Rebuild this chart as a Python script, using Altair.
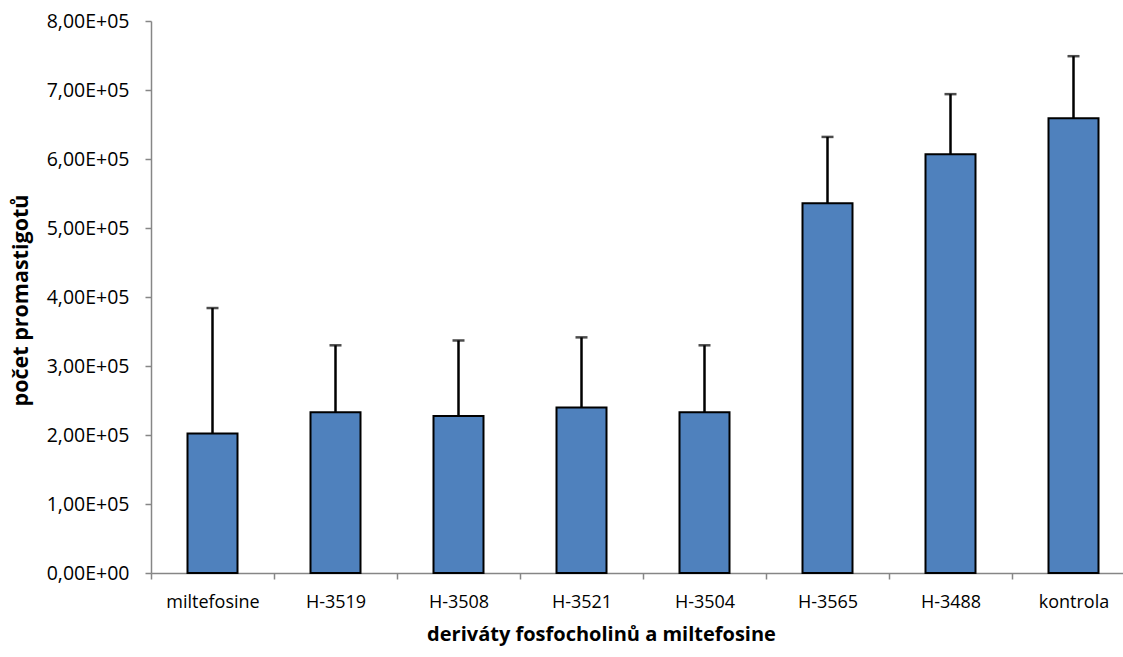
import altair as alt
import pandas as pd

categories = ["miltefosine", "H-3519", "H-3508", "H-3521", "H-3504", "H-3565", "H-3488", "kontrola"]
means = [2.02e5, 2.33e5, 2.275e5, 2.40e5, 2.33e5, 5.36e5, 6.07e5, 6.59e5]
errors = [1.82e5, 0.97e5, 1.095e5, 1.015e5, 0.97e5, 0.96e5, 0.87e5, 0.90e5]
y_ticks = [0, 1e5, 2e5, 3e5, 4e5, 5e5, 6e5, 7e5, 8e5]

df = pd.DataFrame({"cat": categories, "mean": means, "err": errors})
df["top"] = df["mean"] + df["err"]

FONT = "Open Sans"

x_enc = alt.X(
    "cat:N",
    sort=categories,
    scale=alt.Scale(range=[0, 984], paddingInner=0, paddingOuter=0),
    axis=alt.Axis(
        title="deriváty fosfocholinů a miltefosine",
        tickBand="extent",
        labelAngle=0,
        labelFont=FONT,
        labelFontSize=18,
        labelColor="#000000",
        labelPadding=14,
        tickSize=6,
        tickColor="#868686",
        tickWidth=1.5,
        domainColor="#868686",
        domainWidth=1.5,
        titleFont=FONT,
        titleFontSize=20,
        titleFontWeight="bold",
        titleColor="#000000",
        titleX=450,
        titleY=67,
        titleAlign="center",
        titleBaseline="alphabetic",
        grid=False,
    ),
)

y_scale = alt.Scale(domain=[0, 8e5], nice=False, zero=True)
y_axis = alt.Axis(
    title="počet promastigotů",
    values=y_ticks,
    labelExpr="datum.value == 0 ? '0,00E+00' : replace(format(datum.value/100000, '.2f'), '.', ',') + 'E+05'",
    labelFont=FONT,
    labelFontSize=19.5,
    labelColor="#000000",
    labelPadding=16,
    tickSize=6,
    tickColor="#868686",
    tickWidth=1.5,
    domainColor="#868686",
    domainWidth=1.5,
    titleFont=FONT,
    titleFontSize=21.5,
    titleFontWeight="bold",
    titleColor="#000000",
    titleAngle=270,
    titleX=-130,
    titleY=279,
    titleAlign="center",
    titleBaseline="middle",
    grid=False,
)

base = alt.Chart(df)

bars = base.mark_bar(size=50, color="#4F81BD", stroke="#000000", strokeWidth=2).encode(
    x=x_enc,
    y=alt.Y("mean:Q", scale=y_scale, axis=y_axis),
)

rule = base.mark_rule(color="#000000", strokeWidth=2.5).encode(
    x=alt.X("cat:N", sort=categories),
    y=alt.Y("mean:Q"),
    y2="top:Q",
)

cap = base.mark_tick(color="#000000", size=12, thickness=2.5, orient="horizontal").encode(
    x=alt.X("cat:N", sort=categories),
    y=alt.Y("top:Q"),
)

chart = (
    alt.layer(bars, rule, cap)
    .properties(
        width=972,
        height=552,
        autosize=alt.AutoSizeParams(type="none"),
        padding={"left": 151, "top": 21, "right": 0, "bottom": 84},
        background="#ffffff",
    )
    .configure_view(stroke=None)
)

chart.save("out.html", embed_options={"renderer": "svg", "actions": False})
